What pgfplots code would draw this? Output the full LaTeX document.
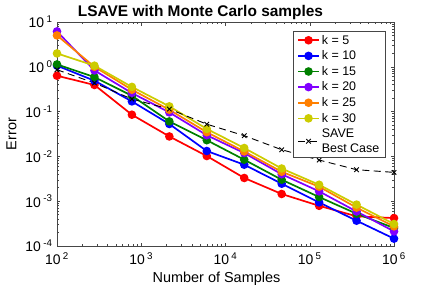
\documentclass[border=0pt]{standalone}
\usepackage{fontspec}
\setmainfont{Liberation Sans}
\usepackage{pgfplots}
\pgfplotsset{compat=1.18}
\definecolor{mpurple}{RGB}{128,0,255}
\definecolor{morange}{RGB}{255,128,0}
\definecolor{myellow}{RGB}{204,204,0}
\definecolor{mgreen}{RGB}{0,128,0}
\definecolor{axgray}{RGB}{70,70,70}
\begin{document}
\begin{tikzpicture}
\begin{loglogaxis}[
  scale only axis, width=337bp, height=224bp,
  xmin=100, xmax=1e6, ymin=1e-4, ymax=10,
  xtick={100,1000,10000,100000,1000000},
  xticklabels={10\,\textsuperscript{2},10\,\textsuperscript{3},10\,\textsuperscript{4},10\,\textsuperscript{5},10\,\textsuperscript{6}},
  ytick={1e-4,1e-3,1e-2,1e-1,1,10},
  yticklabels={10\,\textsuperscript{-4},10\,\textsuperscript{-3},10\,\textsuperscript{-2},10\,\textsuperscript{-1},10\,\textsuperscript{0},10\,\textsuperscript{1}},
  ticklabel style={font=\fontsize{14}{14}\selectfont},
  xticklabel style={yshift=-3bp},
  yticklabel style={xshift=-1bp},
  every axis title shift=0pt,
  title={LSAVE with Monte Carlo samples},
  title style={font=\fontsize{15.5}{15.5}\selectfont\bfseries, at={(0.5,1)}, anchor=south, yshift=0bp, inner sep=2bp, xshift=-25bp},
  xlabel={Number of Samples}, ylabel={Error},
  xlabel style={font=\fontsize{14.5}{14.5}\selectfont, xshift=-9bp, yshift=-1bp},
  ylabel style={font=\fontsize{14.5}{14.5}\selectfont, yshift=2bp},
  axis line style={axgray}, tick style={axgray, line width=0.5bp},
  major tick length=3.5bp, minor tick length=2bp,
  every axis plot/.append style={line width=1.7bp, mark=*, mark size=3.4bp},
  legend image code/.code={\draw[mark repeat=2,mark phase=2] plot coordinates {(0bp,0bp)(10.5bp,0bp)(21bp,0bp)};},
  legend style={at={(1,1)}, anchor=north east, xshift=-9bp, yshift=-9bp,
    font=\fontsize{12.5}{15}\selectfont, draw=axgray, cells={align=left, anchor=west},
    inner xsep=3.5bp, inner ysep=2.5bp, row sep=2.5bp,
    nodes={inner ysep=1.3bp}},
]
\addplot[color=red] coordinates {(100,0.632)(278.26,0.393)(774.26,0.0853)(2154.43,0.0279)(5994.84,0.0102)(16681,0.0033)(46415.9,0.00145)(129155,0.00079)(359381,0.00046)(1000000,0.00042)};
\addlegendentry{k = 5}
\addplot[color=blue] coordinates {(100,1.06)(278.26,0.49)(774.26,0.169)(2154.43,0.0529)(5994.84,0.0132)(16681,0.00653)(46415.9,0.00246)(129155,0.00094)(359381,0.000367)(1000000,0.000146)};
\addlegendentry{k = 10}
\addplot[color=mgreen] coordinates {(100,1.13)(278.26,0.59)(774.26,0.226)(2154.43,0.0604)(5994.84,0.023)(16681,0.00844)(46415.9,0.00302)(129155,0.00124)(359381,0.000526)(1000000,0.000252)};
\addlegendentry{k = 15}
\addplot[color=mpurple] coordinates {(100,6.17)(278.26,0.83)(774.26,0.26)(2154.43,0.096)(5994.84,0.0297)(16681,0.0119)(46415.9,0.0040)(129155,0.00166)(359381,0.00059)(1000000,0.000212)};
\addlegendentry{k = 20}
\addplot[color=morange] coordinates {(100,5.02)(278.26,1.0)(774.26,0.308)(2154.43,0.110)(5994.84,0.0347)(16681,0.0129)(46415.9,0.00455)(129155,0.00211)(359381,0.00072)(1000000,0.000274)};
\addlegendentry{k = 25}
\addplot[color=myellow] coordinates {(100,1.99)(278.26,1.06)(774.26,0.356)(2154.43,0.131)(5994.84,0.0411)(16681,0.0154)(46415.9,0.00537)(129155,0.00233)(359381,0.00084)(1000000,0.00031)};
\addlegendentry{k = 30}
\addplot[color=black, line width=0.9bp, dash pattern=on 7bp off 4.5bp, mark=x, mark size=3.2bp, mark options={solid}] coordinates {(100,0.86)(278.26,0.435)(774.26,0.191)(2154.43,0.114)(5994.84,0.0524)(16681,0.029)(46415.9,0.0141)(129155,0.0083)(359381,0.00505)(1000000,0.0044)};
\addlegendentry{SAVE\\Best Case}
\end{loglogaxis}
\path (current axis.south west) ++(-57bp,-45bp) coordinate (bl);
\path (current axis.north east) ++(42bp,22bp) coordinate (tr);
\pgfresetboundingbox
\useasboundingbox (bl) rectangle (tr);
\end{tikzpicture}
\end{document}
